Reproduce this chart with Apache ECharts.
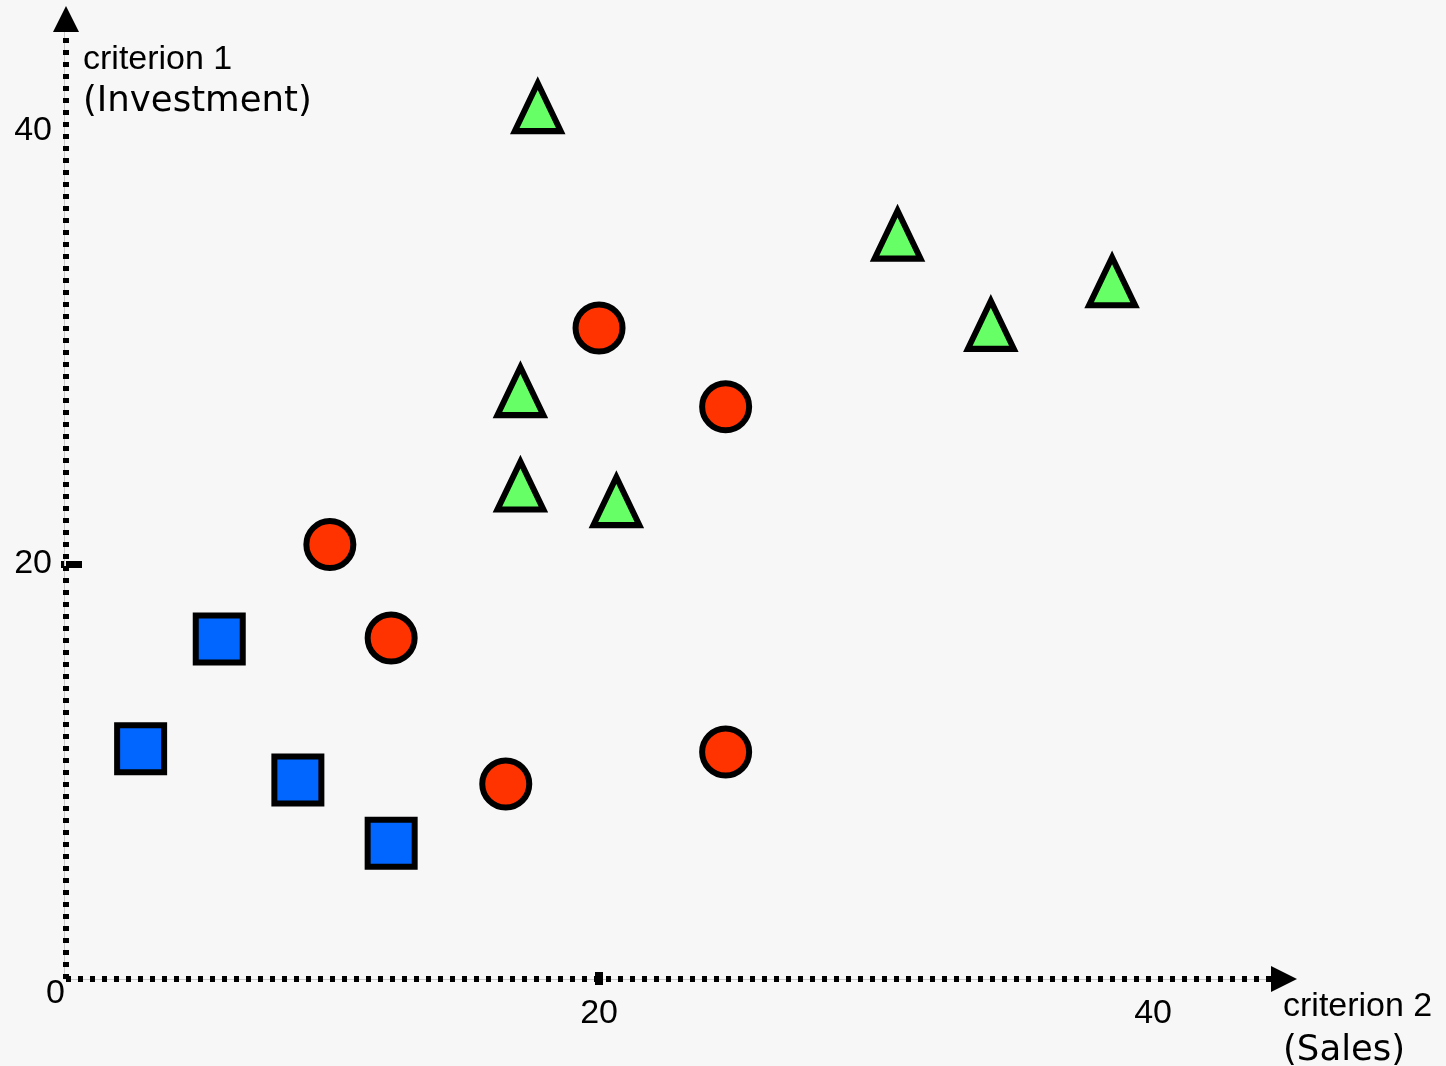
<!DOCTYPE html>
<html>
<head>
<meta charset="utf-8">
<title>criterion 1 / criterion 2</title>
<script src="https://cdn.jsdelivr.net/npm/echarts@6/dist/echarts.min.js"></script>
<style>
  html, body { margin: 0; padding: 0; background: #f7f7f7; }
  #main { width: 1446px; height: 1066px; }
</style>
</head>
<body>
<div id="main"></div>
<script>
// [criterion 2 (Sales), criterion 1 (Investment)]
var squares = [[2.8, 11.1], [5.75, 16.4], [8.7, 9.6], [12.2, 6.55]];
var circles = [[9.9, 20.95], [12.2, 16.45], [16.5, 9.4], [20.0, 31.4], [24.75, 27.6], [24.75, 10.95]];
var triangles = [[17.7, 42.05], [31.2, 35.9], [39.25, 33.65], [34.7, 31.55], [17.05, 28.35], [17.05, 23.8], [20.65, 23.05]];
var xLabels = [20, 40];
var yLabels = [0, 20, 40];
var xMax = 45.7;
var yMax = 46.3;

var numFont = { fontFamily: 'Liberation Sans', fontSize: 34, color: '#000' };

var chartDom = document.getElementById('main');
var myChart = echarts.init(chartDom);
var option;

option = {
  backgroundColor: '#f7f7f7',
  animation: false,
  grid: { left: 66, right: 162, top: 19, bottom: 87, containLabel: false, outerBoundsMode: 'none' },
  xAxis: [
    {
      type: 'value', position: 'bottom', min: 0, max: xMax, interval: 20, z: 3,
      axisLine: { show: true, onZero: false, symbol: ['none', 'triangle'], symbolSize: [26, 26],
        lineStyle: { color: '#000', width: 6, type: [5, 7], cap: 'butt' } },
      axisTick: { show: true, customValues: [20], inside: false, length: 6, lineStyle: { color: '#000', width: 8 } },
      axisLabel: {
        customValues: xLabels, margin: 18,
        formatter: function (v) { return v === 40 ? '{far|40}' : '{n|' + v + '}'; },
        rich: {
          n: numFont,
          far: Object.assign({ padding: [0, 0, 0, 42] }, numFont)
        }
      },
      splitLine: { show: false }
    },
    {
      type: 'value', position: 'bottom', min: 0, max: xMax, interval: 20, z: 1,
      axisLine: { show: true, onZero: false, lineStyle: { color: '#c8c8c8', width: 1 } },
      axisTick: { show: true, customValues: [20], inside: true, length: 7, lineStyle: { color: '#000', width: 8 } },
      axisLabel: { show: false },
      splitLine: { show: false }
    }
  ],
  yAxis: [
    {
      type: 'value', position: 'left', min: 0, max: yMax, interval: 20, z: 3,
      axisLine: { show: true, onZero: false, symbol: ['none', 'triangle'], symbolSize: [26, 26],
        lineStyle: { color: '#000', width: 6, type: [5, 7], cap: 'butt' } },
      axisTick: { show: true, customValues: [20], inside: true, length: 16, lineStyle: { color: '#000', width: 7 } },
      axisLabel: {
        customValues: yLabels, margin: 1,
        formatter: function (v) {
          if (v === 0) return '{z|0}';
          if (v === 40) return '{f|40}';
          return '{t|' + v + '}';
        },
        rich: {
          z: Object.assign({ padding: [30, 0, 0, 0] }, numFont),
          t: Object.assign({ padding: [0, 13, 2, 0] }, numFont),
          f: Object.assign({ padding: [0, 13, 38, 0] }, numFont)
        }
      },
      splitLine: { show: false }
    },
    {
      type: 'value', position: 'left', offset: 2, min: 0, max: yMax, interval: 20, z: 1,
      axisLine: { show: true, onZero: false, lineStyle: { color: '#c8c8c8', width: 1 } },
      axisTick: { show: true, customValues: [20], inside: false, length: 3, lineStyle: { color: '#000', width: 7 } },
      axisLabel: { show: false },
      splitLine: { show: false }
    }
  ],
  graphic: [
    { type: 'text', x: 83, y: 60, style: { text: 'criterion 1', font: '34px "Liberation Sans"', fill: '#000', textVerticalAlign: 'middle', verticalAlign: 'middle' } },
    { type: 'text', x: 83, y: 102, style: { text: '(Investment)', font: '35.5px "DejaVu Sans"', fill: '#000', textVerticalAlign: 'middle', verticalAlign: 'middle' } },
    { type: 'text', x: 1283, y: 1007, style: { text: 'criterion 2', font: '34px "Liberation Sans"', fill: '#000', textVerticalAlign: 'middle', verticalAlign: 'middle' } },
    { type: 'text', x: 1283, y: 1051, style: { text: '(Sales)', font: '35.5px "DejaVu Sans"', fill: '#000', textVerticalAlign: 'middle', verticalAlign: 'middle' } }
  ],
  series: [
    {
      name: 'squares', type: 'scatter', xAxisIndex: 0, yAxisIndex: 0, z: 5,
      data: squares, symbol: 'rect', symbolSize: 47,
      itemStyle: { color: '#0066ff', borderColor: '#000', borderWidth: 6, opacity: 1 },
      emphasis: { disabled: true }
    },
    {
      name: 'circles', type: 'scatter', xAxisIndex: 0, yAxisIndex: 0, z: 5,
      data: circles, symbol: 'circle', symbolSize: 47,
      itemStyle: { color: '#ff3300', borderColor: '#000', borderWidth: 6, opacity: 1 },
      emphasis: { disabled: true }
    },
    {
      name: 'triangles', type: 'scatter', xAxisIndex: 0, yAxisIndex: 0, z: 5,
      data: triangles, symbol: 'triangle', symbolSize: [46, 48],
      itemStyle: { color: '#66ff66', borderColor: '#000', borderWidth: 6, borderJoin: 'miter', borderMiterLimit: 10, opacity: 1 },
      emphasis: { disabled: true }
    }
  ]
};

option && myChart.setOption(option);
</script>
</body>
</html>
